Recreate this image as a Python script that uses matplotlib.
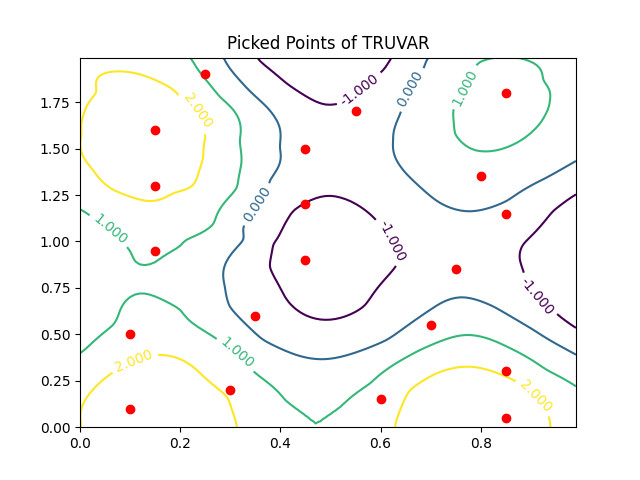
import matplotlib
matplotlib.use("Agg")

import numpy as np
import matplotlib.pyplot as plt

# Points picked by TRUVAR
picked_x = [0.25, 0.15, 0.15, 0.15, 0.10, 0.10, 0.30, 0.35, 0.45, 0.45,
            0.45, 0.55, 0.60, 0.70, 0.75, 0.80, 0.85, 0.85, 0.85, 0.85]
picked_y = [1.90, 1.60, 1.30, 0.95, 0.50, 0.10, 0.20, 0.60, 1.50, 1.20,
            0.90, 1.70, 0.15, 0.55, 0.85, 1.35, 1.80, 1.15, 0.30, 0.05]

levels = [-1, 0, 1, 2]

lvl2_x = [0.185, 0.122, 0.032, 0.008, 0.003, 0.01, 0.025, 0.065, 0.138, 0.188,
          0.22, 0.236, 0.246, 0.25, 0.235,
          0.002, 0.002, 0.025, 0.063, 0.11, 0.163, 0.233, 0.293, 0.313,
          0.629, 0.659, 0.712, 0.778, 0.865, 0.905, 0.938]
lvl2_y = [1.82, 1.898, 1.80, 1.69, 1.578, 1.44, 1.388, 1.28, 1.217, 1.262,
          1.291, 1.363, 1.453, 1.561, 1.70,
          0.01, 0.09, 0.20, 0.29, 0.36, 0.389, 0.308, 0.164, 0.002,
          0.002, 0.20, 0.29, 0.326, 0.254, 0.18, 0.029]

lvl1_x = [0.22, 0.28, 0.319, 0.322, 0.313, 0.266, 0.213, 0.20, 0.15, 0.10, 0.06, 0.0,
          0.0, 0.066, 0.15, 0.20, 0.266, 0.313, 0.347, 0.41, 0.469, 0.52,
          0.579, 0.679, 0.772, 0.852, 0.932, 0.991,
          0.798, 0.768, 0.745, 0.749, 0.792, 0.852, 0.905, 0.928, 0.938, 0.937,
          0.925, 0.892]
lvl1_y = [1.99, 1.777, 1.543, 1.42, 1.291, 1.093, 1.01, 0.976, 0.888, 0.947, 1.066, 1.174,
          0.398, 0.551, 0.704, 0.632, 0.488, 0.40, 0.299, 0.145, 0.002, 0.11,
          0.236, 0.416, 0.497, 0.434, 0.308, 0.218,
          1.966, 1.831, 1.705, 1.579, 1.489, 1.507, 1.597, 1.678, 1.76, 1.814,
          1.868, 1.976]

lvl0_x = [0.286, 0.373, 0.399, 0.379, 0.353, 0.326, 0.326, 0.289, 0.299,
          0.366, 0.432, 0.485, 0.612, 0.699, 0.762, 0.825, 0.905, 0.991,
          0.692, 0.659, 0.639, 0.625, 0.652, 0.712, 0.778, 0.852, 0.932, 0.991]
lvl0_y = [1.994, 1.723, 1.507, 1.327, 1.20, 1.075, 1.01, 0.758, 0.65,
          0.47, 0.389, 0.366, 0.47, 0.632, 0.70, 0.65, 0.524, 0.389,
          1.976, 1.822, 1.687, 1.543, 1.363, 1.219, 1.162, 1.219, 1.345, 1.435]

lvlm1_x = [0.499, 0.426, 0.386, 0.379, 0.413, 0.49, 0.566, 0.625, 0.623, 0.579, 0.519,
           0.353, 0.413, 0.49, 0.559, 0.605, 0.622,
           0.991, 0.945, 0.885, 0.878, 0.905, 0.958, 0.991]
lvlm1_y = [1.246, 1.165, 0.985, 0.866, 0.686, 0.578, 0.65, 0.848, 1.0, 1.147, 1.237,
           1.994, 1.85, 1.737, 1.814, 1.922, 1.994,
           1.255, 1.165, 0.985, 0.902, 0.72, 0.596, 0.533]

# Estimated values at saddles and at minima lying past the frame
extra_x = [0.15, 0.02, 0.47, 0.50, 0.99]
extra_y = [0.80, 0.80, 0.00, 1.99, 0.90]
extra_v = [0.93, 0.75, 1.01, -1.35, -1.45]

# label spots
label_pos = [(0.233, 1.70), (0.106, 0.37), (0.911, 0.173),
             (0.06, 1.066), (0.313, 0.398), (0.768, 1.831),
             (0.353, 1.20), (0.659, 1.822),
             (0.559, 1.814), (0.623, 1.0), (0.911, 0.704)]


def build_samples():
    xs, ys, vs = [], [], []
    for lv, lx, ly in [(2, lvl2_x, lvl2_y), (1, lvl1_x, lvl1_y),
                       (0, lvl0_x, lvl0_y), (-1, lvlm1_x, lvlm1_y)]:
        xs += lx
        ys += ly
        vs += [lv] * len(lx)
    xs += extra_x
    ys += extra_y
    vs += extra_v
    xs, ys, vs = np.array(xs, float), np.array(ys, float), np.array(vs, float)
    # surface is mirror-symmetric about y = 0 (saddle sits on the bottom edge)
    m = (ys > 0.005) & (ys < 0.8)
    return (np.r_[xs, xs[m]], np.r_[ys, -ys[m]], np.r_[vs, vs[m]])


def tps_kernel(r2):
    with np.errstate(divide="ignore", invalid="ignore"):
        return np.where(r2 > 0, 0.5 * r2 * np.log(r2), 0.0)


def tps_fit(xs, ys, vs, lam):
    n = len(xs)
    r2 = (xs[:, None] - xs[None, :]) ** 2 + (ys[:, None] - ys[None, :]) ** 2
    P = np.c_[np.ones(n), xs, ys]
    A = np.zeros((n + 3, n + 3))
    A[:n, :n] = tps_kernel(r2) + lam * np.eye(n)
    A[:n, n:] = P
    A[n:, :n] = P.T
    sol = np.linalg.solve(A, np.r_[vs, np.zeros(3)])
    return sol[:n], sol[n:]


def tps_eval(X, Y, xs, ys, w, a):
    r2 = (X.ravel()[:, None] - xs[None, :]) ** 2 + (Y.ravel()[:, None] - ys[None, :]) ** 2
    Z = tps_kernel(r2) @ w + a[0] + a[1] * X.ravel() + a[2] * Y.ravel()
    return Z.reshape(X.shape)


xs, ys, vs = build_samples()
w, a = tps_fit(xs, ys, vs, lam=1e-4)

gx = np.arange(0, 1, 0.01)
gy = np.arange(0, 2, 0.01)
X, Y = np.meshgrid(gx, gy)
Z = tps_eval(X, Y, xs, ys, w, a)

fig, ax = plt.subplots(figsize=(6.4, 4.8), dpi=100)
cs = ax.contour(X, Y, Z, levels=levels, cmap="viridis")
ax.clabel(cs, inline=True, fontsize=10, fmt="%1.3f", manual=label_pos)
ax.plot(picked_x, picked_y, "ro")
ax.set_xlim(0, gx[-1])
ax.set_ylim(0, gy[-1])
ax.set_title("Picked Points of TRUVAR")

fig.savefig("out.png")
